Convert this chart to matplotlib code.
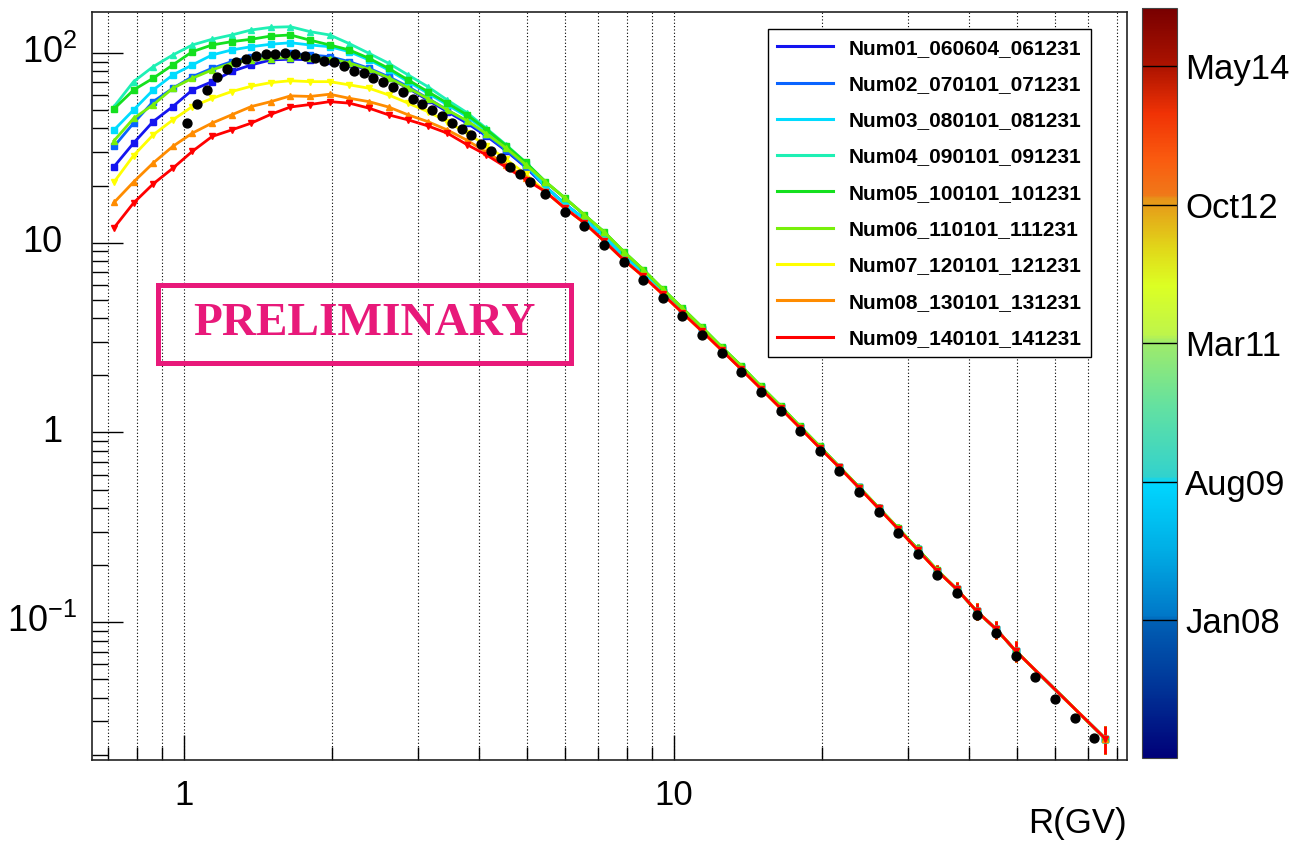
import datetime as dt
import numpy as np
import matplotlib
matplotlib.use("Agg")
import matplotlib.pyplot as plt
import matplotlib.dates as mdates
import matplotlib.transforms as mtransforms
from matplotlib.colors import LinearSegmentedColormap, Normalize
from matplotlib.cm import ScalarMappable
from matplotlib.lines import Line2D
from matplotlib.patches import Rectangle
from matplotlib.ticker import FixedLocator, LogLocator, NullFormatter

plt.rcParams["font.family"] = ["Liberation Sans", "DejaVu Sans"]
plt.rcParams["mathtext.fontset"] = "custom"
plt.rcParams["mathtext.rm"] = "Liberation Sans"
plt.rcParams["mathtext.it"] = "Liberation Sans:italic"
plt.rcParams["mathtext.bf"] = "Liberation Sans:bold"

# ---------------------------------------------------------------- data
# rigidity bin centres (GV) of the yearly spectra
rigidity = [0.720, 0.789, 0.865, 0.949, 1.040, 1.141, 1.251, 1.372, 1.504, 1.649,
            1.808, 1.983, 2.174, 2.384, 2.614, 2.866, 3.142, 3.445, 3.778, 4.142,
            4.542, 4.980, 5.460, 5.987, 6.565, 7.198, 7.892, 8.654, 9.489, 10.40,
            11.41, 12.51, 13.72, 15.04, 16.49, 18.08, 19.83, 21.74, 23.84, 26.14,
            28.66, 31.42, 34.45, 37.78, 41.42, 45.42, 49.80, 75.9]

# low-rigidity part of each yearly spectrum (first 22 bins)
num01_low = [25.2, 33.5, 43.5, 52.2, 63.8, 70.6, 79.9, 86.5, 91.9, 92.7, 92.0,
             91.0, 87.1, 81.4, 73.6, 65.2, 56.5, 49.1, 42.7, 36.5, 30.5, 25.0]
num02_low = [32.2, 42.7, 55.4, 65.2, 75.0, 83.0, 90.0, 95.6, 97.6, 99.6, 97.6,
             95.6, 90.0, 83.0, 75.0, 66.5, 57.7, 50.1, 43.5, 37.0, 30.8, 25.2]
num03_low = [39.3, 50.1, 63.8, 76.6, 86.5, 97.6, 103.7, 107.9, 111.2, 113.2, 110.2,
             107.9, 101.6, 91.9, 81.4, 70.6, 61.4, 53.3, 46.2, 38.8, 32.0, 26.0]
num04_low = [52.2, 70.6, 84.7, 97.6, 110.2, 118.1, 124.4, 132.2, 136.5, 137.5, 129.5,
             124.4, 112.0, 99.6, 88.3, 76.6, 66.5, 56.5, 48.5, 40.0, 32.8, 26.5]
num05_low = [50.8, 63.8, 73.6, 86.5, 101.6, 110.2, 114.7, 118.1, 122.8, 124.4, 116.8,
             110.2, 103.7, 93.8, 83.0, 72.1, 62.6, 54.4, 47.2, 39.5, 32.5, 26.5]
num06_low = [34.5, 45.2, 53.3, 65.2, 73.6, 81.4, 88.3, 91.9, 93.5, 94.5, 94.5,
             93.5, 88.5, 82.0, 74.0, 65.5, 57.5, 50.0, 44.0, 37.5, 31.5, 25.8]
num07_low = [20.9, 28.8, 37.0, 44.4, 52.2, 57.6, 62.6, 66.8, 69.8, 71.4, 70.6,
             70.6, 67.9, 65.2, 60.1, 54.4, 49.1, 43.5, 37.8, 32.5, 27.5, 23.0]
num08_low = [16.3, 20.9, 26.3, 32.2, 37.8, 42.7, 47.2, 52.2, 55.4, 59.4, 59.0,
             60.6, 57.7, 55.4, 51.9, 47.2, 43.5, 39.3, 34.7, 30.0, 25.8, 22.0]
num09_low = [12.0, 16.2, 20.4, 24.7, 30.3, 36.3, 39.3, 42.7, 47.5, 51.9, 53.5,
             55.4, 54.4, 51.2, 47.2, 44.4, 41.3, 37.8, 32.9, 29.0, 25.0, 21.5]

# high-rigidity part (remaining 26 bins), where the years converge
tail_upper = [21.0, 17.2, 14.0, 11.4, 8.98, 7.21, 5.69, 4.52, 3.58, 2.82, 2.24, 1.75,
              1.38, 1.076, 0.844, 0.660, 0.516, 0.402, 0.313, 0.243, 0.188, 0.149,
              0.1145, 0.0919, 0.0705, 0.0243]
tail_middle = [19.8, 16.0, 13.3, 10.8, 8.50, 6.90, 5.50, 4.40, 3.50, 2.77, 2.20, 1.73,
               1.36, 1.066, 0.836, 0.657, 0.513, 0.400, 0.311, 0.242, 0.187, 0.149,
               0.1145, 0.0919, 0.0705, 0.0243]
tail_lower = [18.6, 15.2, 12.7, 10.2, 8.12, 6.64, 5.34, 4.27, 3.41, 2.71, 2.15, 1.70,
              1.342, 1.056, 0.828, 0.654, 0.511, 0.398, 0.310, 0.240, 0.186, 0.149,
              0.1145, 0.0919, 0.0705, 0.0243]

# relative statistical error per bin
rel_error = [0.0] * 37 + [0.03, 0.04, 0.05, 0.05, 0.06, 0.07, 0.09, 0.10, 0.11, 0.13, 0.17]

labels = ["Num01_060604_061231", "Num02_070101_071231", "Num03_080101_081231",
          "Num04_090101_091231", "Num05_100101_101231", "Num06_110101_111231",
          "Num07_120101_121231", "Num08_130101_131231", "Num09_140101_141231"]
colors = ["#1414f0", "#0a64ff", "#00dcff", "#1ef0b4", "#14e01e", "#78f00a",
          "#ffff00", "#ff8c00", "#ff0000"]
markers = ["s", "s", "s", "^", "s", "^", "v", "^", "v"]

series = [num01_low + tail_middle, num02_low + tail_middle, num03_low + tail_middle,
          num04_low + tail_upper, num05_low + tail_upper, num06_low + tail_upper,
          num07_low + tail_lower, num08_low + tail_lower, num09_low + tail_lower]

# reference measurement
ref_rigidity = [1.016, 1.063, 1.113, 1.166, 1.221, 1.278, 1.338, 1.401, 1.467, 1.536,
                1.609, 1.684, 1.764, 1.847, 1.934, 2.025, 2.120, 2.220, 2.325, 2.434,
                2.549, 2.669, 2.795, 2.927, 3.064, 3.209, 3.360, 3.518, 3.684, 3.857,
                4.039, 4.229, 4.429, 4.637, 4.856, 5.084,
                5.460, 5.987, 6.565, 7.198, 7.892, 8.654, 9.489, 10.40, 11.41, 12.51,
                13.72, 15.04, 16.49, 18.08, 19.83, 21.74, 23.84, 26.14, 28.66, 31.42,
                34.45, 37.78, 41.42, 45.42, 49.80, 54.60, 59.87, 65.65, 71.99]
ref_flux = [42.7, 53.7, 63.8, 74.5, 82.0, 90.0, 93.0, 96.4, 98.4, 99.0,
            99.6, 99.0, 96.8, 93.8, 91.0, 89.3, 85.4, 80.7, 78.2, 74.1,
            70.6, 65.9, 62.5, 57.5, 53.7, 50.1, 46.6, 43.0, 39.6, 36.9,
            33.2, 30.5, 27.9, 25.1, 23.0, 20.8,
            18.1, 14.6, 12.2, 9.76, 7.88, 6.38, 5.13, 4.11, 3.28, 2.61,
            2.07, 1.636, 1.290, 1.015, 0.796, 0.623, 0.487, 0.379, 0.295, 0.229,
            0.1774, 0.142, 0.109, 0.0875, 0.0665, 0.0515, 0.0393, 0.0311, 0.0245]

# y axis labels (value, text, exponent form)
y_ticks = [0.1, 1, 10, 100]
y_ticklabels = [r"$10^{-1}$", "1", "10", r"$10^{2}$"]
y_is_power = [True, False, False, True]

# colour scale: time span of the data sets
period_start = dt.datetime(2006, 6, 4)
period_end = dt.datetime(2014, 12, 31)
cbar_dates = [dt.datetime(2008, 1, 1), dt.datetime(2009, 8, 1), dt.datetime(2011, 3, 1),
              dt.datetime(2012, 10, 1), dt.datetime(2014, 5, 1)]
cbar_labels = ["Jan08", "Aug09", "Mar11", "Oct12", "May14"]

# ---------------------------------------------------------------- figure
W, H = 1307, 850
fig = plt.figure(figsize=(W / 100, H / 100), dpi=100)
ax = fig.add_axes([92 / W, 90 / H, 1035 / W, 748 / H])

ax.set_xscale("log")
ax.set_yscale("log")
ax.set_xlim(0.649, 84.0)
ax.set_ylim(0.01878, 164.4)

for vals, col, mk in zip(series, colors, markers):
    err = [v * e for v, e in zip(vals, rel_error)]
    ax.errorbar(rigidity, vals, yerr=err, color=col, lw=2.0, marker=mk, ms=4,
                mec=col, mfc=col, elinewidth=2.0, capsize=0, zorder=3)

ax.plot(ref_rigidity, ref_flux, linestyle="none", marker="o", ms=6.4,
        color="black", zorder=5)

# axes decoration, ROOT style
ax.set_xticks([1, 10])
ax.set_xticklabels(["1", "10"])
ax.xaxis.set_minor_locator(LogLocator(base=10, subs=np.arange(2, 10)))
ax.xaxis.set_minor_formatter(NullFormatter())

ax.yaxis.set_major_locator(FixedLocator(y_ticks))
ax.yaxis.set_minor_locator(LogLocator(base=10, subs=np.arange(2, 10)))
ax.yaxis.set_minor_formatter(NullFormatter())

ax.tick_params(axis="both", which="both", direction="in", top=False, right=False,
               color="black", width=1.0)
ax.tick_params(axis="x", which="major", length=18, pad=14, labelsize=25)
ax.tick_params(axis="x", which="minor", length=9.5)
ax.tick_params(axis="y", which="major", length=22, labelleft=False)
ax.tick_params(axis="y", which="minor", length=11.5)

# y labels: the mantissa "10" is aligned, exponents stick out to the right
ylab_tr = mtransforms.blended_transform_factory(ax.transAxes, ax.transData)
for val, txt, power in zip(y_ticks, y_ticklabels, y_is_power):
    xr = (77 - 92) / 1035 if power else (62 - 92) / 1035
    ax.text(xr, val, txt, transform=ylab_tr, ha="right", va="center",
            fontsize=26, clip_on=False)

ax.grid(True, which="both", axis="x", color="black", linestyle=(0, (1, 2)), lw=0.8)
ax.set_axisbelow(True)
for sp in ax.spines.values():
    sp.set_linewidth(1.2)
    sp.set_color("#222222")

fig.text(1127 / W, 1 - 824 / H, "R(GV)", fontsize=25, ha="right", va="center")

# legend
handles = [Line2D([0], [0], color=c, lw=2.2) for c in colors]
leg = ax.legend(handles, labels, loc="upper left", bbox_to_anchor=(0.653, 0.977),
                borderaxespad=0.0, prop={"weight": "bold", "size": 15},
                frameon=True, fancybox=False, framealpha=1.0, edgecolor="black",
                handlelength=2.7, handletextpad=0.75, labelspacing=0.83,
                borderpad=0.45)
leg.get_frame().set_linewidth(1.0)

# preliminary stamp
pink = "#e8197a"
fig.patches.append(Rectangle((158 / W, 1 - 363 / H), 413 / W, 78 / H, fill=False,
                             edgecolor=pink, lw=3.6, transform=fig.transFigure,
                             figure=fig))
fig.text(364 / W, 1 - 324 / H, "PRELIMINARY", fontsize=34, fontweight="bold",
         family="Liberation Serif", color=pink, ha="center", va="center")

# colour scale of the observation period
nodes = [(0.0, (0, 0, 120)), (0.09, (0, 50, 150)), (0.18, (0, 95, 180)),
         (0.19, (0, 120, 200)), (0.28, (0, 175, 230)), (0.368, (0, 215, 255)),
         (0.375, (50, 210, 205)), (0.47, (100, 225, 160)), (0.555, (160, 235, 105)),
         (0.565, (190, 245, 75)), (0.63, (220, 255, 35)), (0.68, (225, 215, 25)),
         (0.745, (230, 150, 25)), (0.752, (240, 120, 25)), (0.80, (250, 90, 15)),
         (0.86, (240, 50, 5)), (0.92, (175, 20, 0)), (1.0, (120, 0, 0))]
cmap = LinearSegmentedColormap.from_list(
    "period", [(p, tuple(c / 255 for c in rgb)) for p, rgb in nodes], N=512)

cax = fig.add_axes([1142 / W, 92 / H, 35 / W, 750 / H])
norm = Normalize(vmin=mdates.date2num(period_start), vmax=mdates.date2num(period_end))
cb = fig.colorbar(ScalarMappable(norm=norm, cmap=cmap), cax=cax)
cb.set_ticks([mdates.date2num(d) for d in cbar_dates])
cb.set_ticklabels(cbar_labels)
cb.ax.tick_params(direction="in", length=25, width=1.0, color="black",
                  labelsize=25, pad=6)
cb.ax.minorticks_off()
cb.outline.set_linewidth(0.8)
cb.outline.set_edgecolor("#444444")

fig.savefig("out.png", dpi=100)
